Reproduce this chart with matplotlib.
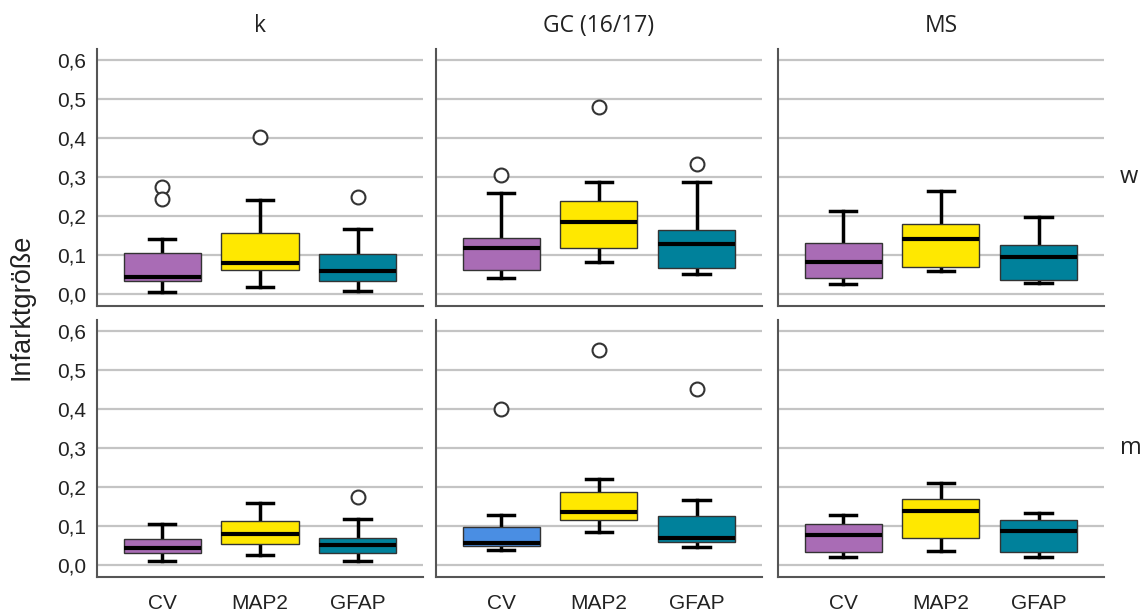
import matplotlib
matplotlib.use('Agg')
import matplotlib.pyplot as plt

# Gruppen / Facetten
spalten = ['k', 'GC (16/17)', 'MS']
zeilen = ['w', 'm']
marker = ['CV', 'MAP2', 'GFAP']

# Boxplot-Kennwerte, je Zeile: [Spalte][Marker]
w_whislo = [[0.006, 0.017, 0.008], [0.041, 0.082, 0.051], [0.025, 0.059, 0.028]]
w_q1 = [[0.034, 0.062, 0.034], [0.062, 0.118, 0.067], [0.041, 0.070, 0.036]]
w_med = [[0.044, 0.080, 0.060], [0.118, 0.186, 0.129], [0.082, 0.141, 0.095]]
w_q3 = [[0.105, 0.157, 0.103], [0.144, 0.240, 0.165], [0.131, 0.180, 0.126]]
w_whishi = [[0.141, 0.242, 0.167], [0.260, 0.288, 0.288], [0.213, 0.265, 0.198]]
w_fliers = [[[0.275, 0.243], [0.402], [0.250]], [[0.306], [0.480], [0.334]], [[], [], []]]

m_whislo = [[0.011, 0.026, 0.011], [0.039, 0.084, 0.047], [0.020, 0.037, 0.020]]
m_q1 = [[0.030, 0.053, 0.030], [0.049, 0.116, 0.060], [0.034, 0.070, 0.034]]
m_med = [[0.043, 0.079, 0.050], [0.057, 0.135, 0.069], [0.077, 0.139, 0.087]]
m_q3 = [[0.066, 0.113, 0.068], [0.098, 0.188, 0.126], [0.105, 0.169, 0.116]]
m_whishi = [[0.105, 0.159, 0.118], [0.127, 0.221, 0.167], [0.129, 0.210, 0.134]]
m_fliers = [[[], [], [0.174]], [[0.400], [0.553], [0.452]], [[], [], []]]

farben = ['#a96cb5', '#ffe800', '#00819b']
farbe_gc_m_cv = '#4a8ee3'

daten = {
    'w': (w_whislo, w_q1, w_med, w_q3, w_whishi, w_fliers),
    'm': (m_whislo, m_q1, m_med, m_q3, m_whishi, m_fliers),
}

fig = plt.figure(figsize=(11.47, 6.14), dpi=100)

lefts = [0.0846, 0.3801, 0.6783]
breite = 0.2840
bottoms = [0.5016, 0.0603]
hoehe = 0.419

tick_font = 'Liberation Sans'
titel_font = 'Open Sans'

for r, zeile in enumerate(zeilen):
    whislo, q1, med, q3, whishi, fliers = daten[zeile]
    for c, spalte in enumerate(spalten):
        ax = fig.add_axes([lefts[c], bottoms[r], breite, hoehe])
        stats = []
        for i, mk in enumerate(marker):
            stats.append({'whislo': whislo[c][i], 'q1': q1[c][i], 'med': med[c][i],
                          'q3': q3[c][i], 'whishi': whishi[c][i], 'fliers': fliers[c][i],
                          'label': mk})
        bp = ax.bxp(stats, positions=[1, 2, 3], widths=0.79, patch_artist=True,
                    showfliers=True, capwidths=0.27,
                    boxprops=dict(edgecolor='#333333', linewidth=1.0),
                    medianprops=dict(color='black', linewidth=3),
                    whiskerprops=dict(color='black', linewidth=2.5),
                    capprops=dict(color='black', linewidth=2.5),
                    flierprops=dict(marker='o', markersize=10, markerfacecolor='white',
                                    markeredgecolor='#333333', markeredgewidth=1.5))
        for i, box in enumerate(bp['boxes']):
            fc = farben[i]
            if zeile == 'm' and spalte == 'GC (16/17)' and i == 0:
                fc = farbe_gc_m_cv
            box.set_facecolor(fc)
        for el in bp['whiskers'] + bp['caps']:
            el.set_zorder(1.5)

        ax.set_xlim(0.333, 3.667)
        ax.set_ylim(-0.031, 0.63)
        ax.set_yticks([0.0, 0.1, 0.2, 0.3, 0.4, 0.5, 0.6])
        ax.yaxis.grid(True, color='#c4c4c4', linewidth=1.6)
        ax.set_axisbelow(True)
        for s in ['top', 'right']:
            ax.spines[s].set_visible(False)
        for s in ['left', 'bottom']:
            ax.spines[s].set_color('#555555')
            ax.spines[s].set_linewidth(1.5)
        ax.tick_params(length=0, pad=8)
        if c == 0:
            ax.set_yticklabels(['0,0', '0,1', '0,2', '0,3', '0,4', '0,5', '0,6'],
                               fontsize=15, family=tick_font, color='#222222')
        else:
            ax.set_yticklabels([])
        if r == 1:
            ax.set_xticks([1, 2, 3])
            ax.set_xticklabels(marker, fontsize=15, family=tick_font, color='#222222')
            ax.tick_params(axis='x', pad=12)
        else:
            ax.set_xticks([])
        if r == 0:
            ax.set_title(spalte, fontsize=16.5, family=titel_font, pad=12, color='#222222')
        if c == 2:
            ax.text(1.05, 0.5, zeile, transform=ax.transAxes, fontsize=17,
                    family=titel_font, va='center', ha='left', color='#222222')

fig.text(0.019, 0.5, 'Infarktgröße', rotation=90, fontsize=19.5, family=tick_font,
         va='center', ha='center', color='#222222')

plt.savefig('out.png', dpi=100)
